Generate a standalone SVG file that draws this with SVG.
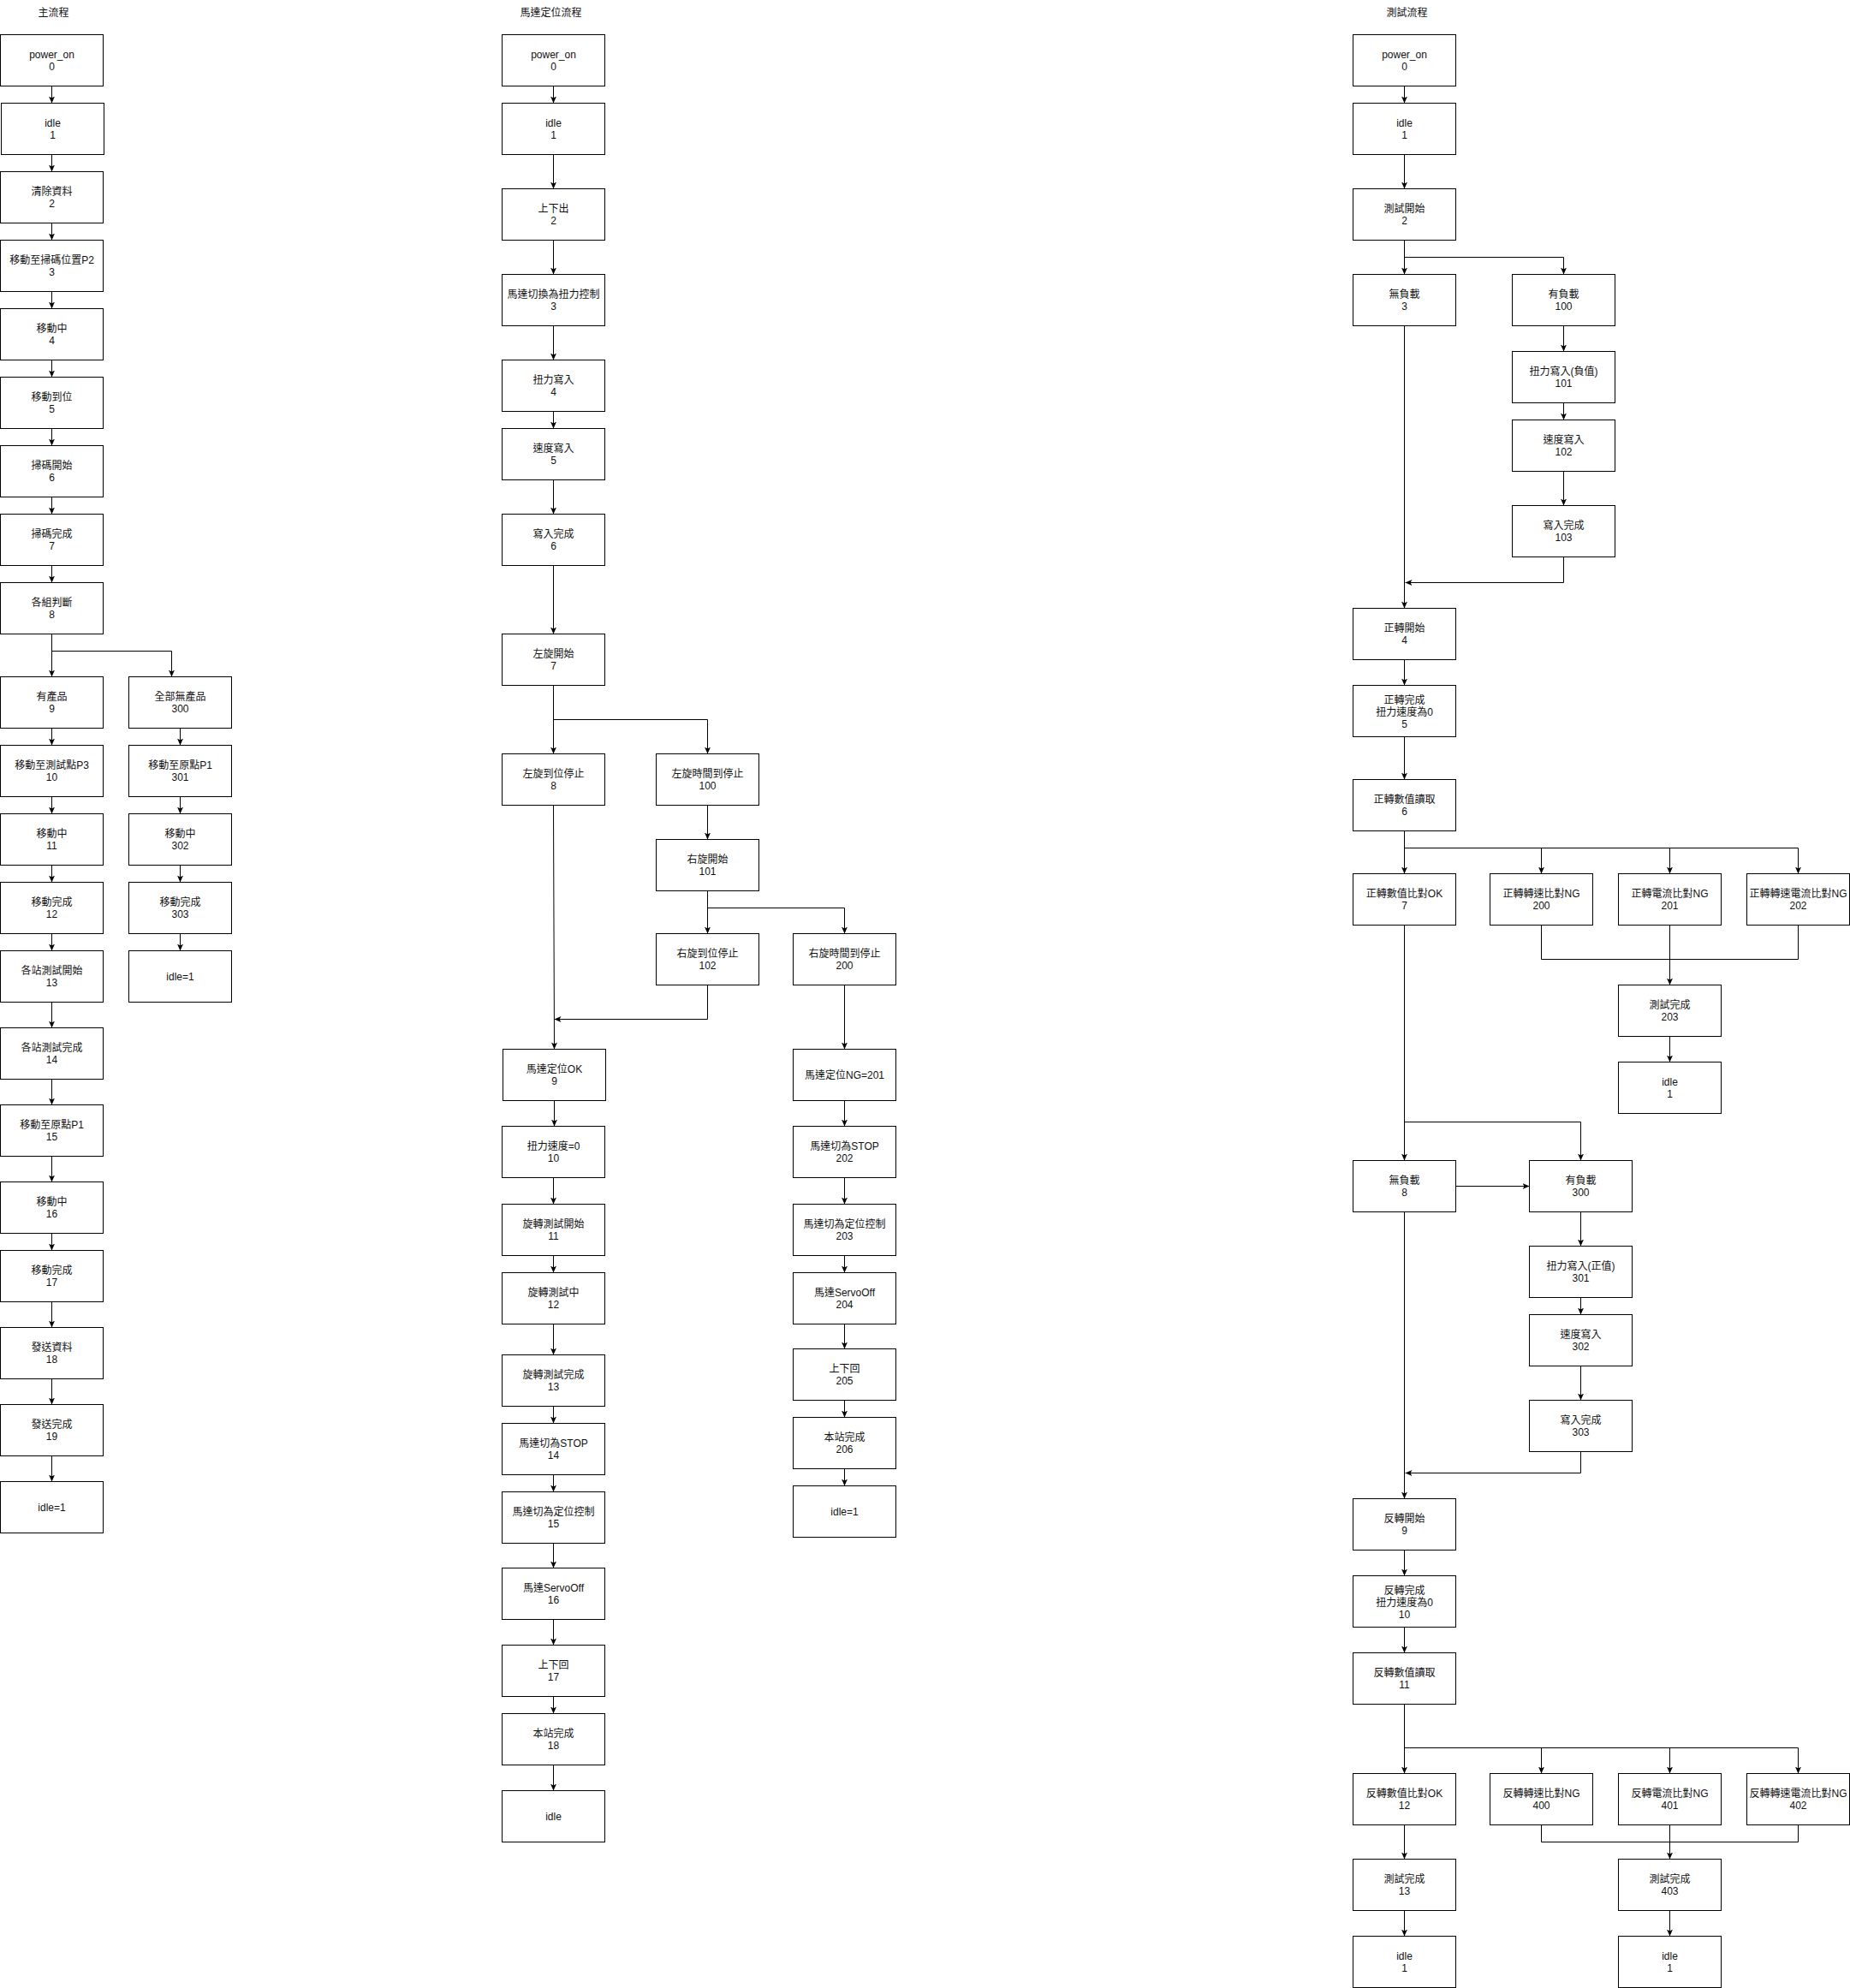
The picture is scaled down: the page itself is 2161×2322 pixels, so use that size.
<svg xmlns="http://www.w3.org/2000/svg" width="2161" height="2322" viewBox="0 0 2161 2322">
<style>
.box{fill:#fff;stroke:#000;stroke-width:1}
.t{font-family:"Liberation Sans","Noto Sans CJK TC",sans-serif;font-size:12px;fill:#111;text-anchor:middle;transform:translateY(-1px)}
.c{fill:none;stroke:#000;stroke-width:1;marker-end:url(#a)}
.n{fill:none;stroke:#000;stroke-width:1}
</style>
<defs>
<marker id="a" viewBox="0 0 8 8" refX="8" refY="4" markerWidth="8" markerHeight="8" markerUnits="userSpaceOnUse" orient="auto"><path d="M0,0.5 L8,4 L0,7.5 L2,4 Z" fill="#000"/></marker>
</defs>
<rect x="0" y="0" width="2161" height="2322" fill="#fff"/>
<g transform="translate(0.5,0.5)">
<g id="titles">
<text class="t" x="62" y="19">主流程</text>
<text class="t" x="643" y="19">馬達定位流程</text>
<text class="t" x="1643" y="19">測試流程</text>
</g>
<g id="connectors">
<path class="c" d="M60,100V120"/><path class="c" d="M60,180V200"/><path class="c" d="M60,260V280"/><path class="c" d="M60,340V360"/>
<path class="c" d="M60,420V440"/><path class="c" d="M60,500V520"/><path class="c" d="M60,580V600"/><path class="c" d="M60,660V680"/>
<path class="c" d="M60,740V790"/><path class="c" d="M60,760H200V790"/>
<path class="c" d="M60,850V870"/><path class="c" d="M60,930V950"/><path class="c" d="M60,1010V1030"/><path class="c" d="M60,1090V1110"/>
<path class="c" d="M60,1170V1200"/><path class="c" d="M60,1260V1290"/><path class="c" d="M60,1350V1380"/><path class="c" d="M60,1440V1460"/>
<path class="c" d="M60,1520V1550"/><path class="c" d="M60,1610V1640"/><path class="c" d="M60,1700V1730"/>
<path class="c" d="M210,850V870"/><path class="c" d="M210,930V950"/><path class="c" d="M210,1010V1030"/><path class="c" d="M210,1090V1110"/>

<path class="c" d="M646,100V120"/><path class="c" d="M646,180V220"/><path class="c" d="M646,280V320"/><path class="c" d="M646,380V420"/>
<path class="c" d="M646,480V500"/><path class="c" d="M646,560V600"/><path class="c" d="M646,660V740"/>
<path class="c" d="M646,800V880"/><path class="c" d="M646,840H826V880"/>
<path class="c" d="M826,940V980"/>
<path class="c" d="M826,1040V1090"/><path class="c" d="M826,1060H986V1090"/>
<path class="c" d="M646,940L647,1225"/>
<path class="c" d="M826,1150V1190H647"/>
<path class="c" d="M647,1285V1315"/><path class="c" d="M646,1375V1406"/><path class="c" d="M646,1466V1486"/><path class="c" d="M646,1546V1582"/>
<path class="c" d="M646,1642V1662"/><path class="c" d="M646,1722V1742"/><path class="c" d="M646,1802V1831"/><path class="c" d="M646,1891V1921"/>
<path class="c" d="M646,1981V2001"/><path class="c" d="M646,2061V2091"/>
<path class="c" d="M986,1150V1225"/><path class="c" d="M986,1285V1315"/><path class="c" d="M986,1375V1406"/><path class="c" d="M986,1466V1486"/>
<path class="c" d="M986,1546V1575"/><path class="c" d="M986,1635V1655"/><path class="c" d="M986,1715V1735"/>

<path class="c" d="M1640,100V120"/><path class="c" d="M1640,180V220"/>
<path class="c" d="M1640,280V320"/><path class="c" d="M1640,300H1826V320"/>
<path class="c" d="M1826,380V410"/><path class="c" d="M1826,470V490"/><path class="c" d="M1826,550V590"/>
<path class="c" d="M1640,380V710"/>
<path class="c" d="M1826,650V680H1641"/>
<path class="c" d="M1640,770V800"/><path class="c" d="M1640,860V910"/>
<path class="c" d="M1640,970V1020"/><path class="n" d="M1640,990H2100"/>
<path class="c" d="M1800,990V1020"/><path class="c" d="M1950,990V1020"/><path class="c" d="M2100,990V1020"/>
<path class="n" d="M1800,1080V1120H2100V1080"/><path class="c" d="M1950,1080V1150"/>
<path class="c" d="M1950,1210V1240"/>
<path class="c" d="M1640,1080V1355"/><path class="c" d="M1640,1310H1846V1355"/>
<path class="c" d="M1700,1385H1786"/>
<path class="c" d="M1846,1415V1455"/><path class="c" d="M1846,1515V1535"/><path class="c" d="M1846,1595V1635"/>
<path class="c" d="M1640,1415V1750"/>
<path class="c" d="M1846,1695V1720H1641"/>
<path class="c" d="M1640,1810V1840"/><path class="c" d="M1640,1900V1930"/>
<path class="c" d="M1640,1990V2071"/><path class="n" d="M1640,2041H2100"/>
<path class="c" d="M1800,2041V2071"/><path class="c" d="M1950,2041V2071"/><path class="c" d="M2100,2041V2071"/>
<path class="n" d="M1800,2131V2151H2100V2131"/><path class="c" d="M1950,2131V2171"/>
<path class="c" d="M1640,2131V2171"/>
<path class="c" d="M1640,2231V2261"/><path class="c" d="M1950,2231V2261"/>
</g>

<g id="m0"><rect class="box" x="0" y="40" width="120" height="60"/><text class="t"><tspan x="60" y="68">power_on</tspan><tspan x="60" y="82">0</tspan></text></g>
<g id="m1"><rect class="box" x="1" y="120" width="120" height="60"/><text class="t"><tspan x="61" y="148">idle</tspan><tspan x="61" y="162">1</tspan></text></g>
<g id="m2"><rect class="box" x="0" y="200" width="120" height="60"/><text class="t"><tspan x="60" y="228">清除資料</tspan><tspan x="60" y="242">2</tspan></text></g>
<g id="m3"><rect class="box" x="0" y="280" width="120" height="60"/><text class="t"><tspan x="60" y="308">移動至掃碼位置P2</tspan><tspan x="60" y="322">3</tspan></text></g>
<g id="m4"><rect class="box" x="0" y="360" width="120" height="60"/><text class="t"><tspan x="60" y="388">移動中</tspan><tspan x="60" y="402">4</tspan></text></g>
<g id="m5"><rect class="box" x="0" y="440" width="120" height="60"/><text class="t"><tspan x="60" y="468">移動到位</tspan><tspan x="60" y="482">5</tspan></text></g>
<g id="m6"><rect class="box" x="0" y="520" width="120" height="60"/><text class="t"><tspan x="60" y="548">掃碼開始</tspan><tspan x="60" y="562">6</tspan></text></g>
<g id="m7"><rect class="box" x="0" y="600" width="120" height="60"/><text class="t"><tspan x="60" y="628">掃碼完成</tspan><tspan x="60" y="642">7</tspan></text></g>
<g id="m8"><rect class="box" x="0" y="680" width="120" height="60"/><text class="t"><tspan x="60" y="708">各組判斷</tspan><tspan x="60" y="722">8</tspan></text></g>
<g id="m9"><rect class="box" x="0" y="790" width="120" height="60"/><text class="t"><tspan x="60" y="818">有產品</tspan><tspan x="60" y="832">9</tspan></text></g>
<g id="m10"><rect class="box" x="0" y="870" width="120" height="60"/><text class="t"><tspan x="60" y="898">移動至測試點P3</tspan><tspan x="60" y="912">10</tspan></text></g>
<g id="m11"><rect class="box" x="0" y="950" width="120" height="60"/><text class="t"><tspan x="60" y="978">移動中</tspan><tspan x="60" y="992">11</tspan></text></g>
<g id="m12"><rect class="box" x="0" y="1030" width="120" height="60"/><text class="t"><tspan x="60" y="1058">移動完成</tspan><tspan x="60" y="1072">12</tspan></text></g>
<g id="m13"><rect class="box" x="0" y="1110" width="120" height="60"/><text class="t"><tspan x="60" y="1138">各站測試開始</tspan><tspan x="60" y="1152">13</tspan></text></g>
<g id="m14"><rect class="box" x="0" y="1200" width="120" height="60"/><text class="t"><tspan x="60" y="1228">各站測試完成</tspan><tspan x="60" y="1242">14</tspan></text></g>
<g id="m15"><rect class="box" x="0" y="1290" width="120" height="60"/><text class="t"><tspan x="60" y="1318">移動至原點P1</tspan><tspan x="60" y="1332">15</tspan></text></g>
<g id="m16"><rect class="box" x="0" y="1380" width="120" height="60"/><text class="t"><tspan x="60" y="1408">移動中</tspan><tspan x="60" y="1422">16</tspan></text></g>
<g id="m17"><rect class="box" x="0" y="1460" width="120" height="60"/><text class="t"><tspan x="60" y="1488">移動完成</tspan><tspan x="60" y="1502">17</tspan></text></g>
<g id="m18"><rect class="box" x="0" y="1550" width="120" height="60"/><text class="t"><tspan x="60" y="1578">發送資料</tspan><tspan x="60" y="1592">18</tspan></text></g>
<g id="m19"><rect class="box" x="0" y="1640" width="120" height="60"/><text class="t"><tspan x="60" y="1668">發送完成</tspan><tspan x="60" y="1682">19</tspan></text></g>
<g id="m20"><rect class="box" x="0" y="1730" width="120" height="60"/><text class="t" x="60" y="1765">idle=1</text></g>
<g id="m300"><rect class="box" x="150" y="790" width="120" height="60"/><text class="t"><tspan x="210" y="818">全部無產品</tspan><tspan x="210" y="832">300</tspan></text></g>
<g id="m301"><rect class="box" x="150" y="870" width="120" height="60"/><text class="t"><tspan x="210" y="898">移動至原點P1</tspan><tspan x="210" y="912">301</tspan></text></g>
<g id="m302"><rect class="box" x="150" y="950" width="120" height="60"/><text class="t"><tspan x="210" y="978">移動中</tspan><tspan x="210" y="992">302</tspan></text></g>
<g id="m303"><rect class="box" x="150" y="1030" width="120" height="60"/><text class="t"><tspan x="210" y="1058">移動完成</tspan><tspan x="210" y="1072">303</tspan></text></g>
<g id="m304"><rect class="box" x="150" y="1110" width="120" height="60"/><text class="t" x="210" y="1145">idle=1</text></g>

<g id="p0"><rect class="box" x="586" y="40" width="120" height="60"/><text class="t"><tspan x="646" y="68">power_on</tspan><tspan x="646" y="82">0</tspan></text></g>
<g id="p1"><rect class="box" x="586" y="120" width="120" height="60"/><text class="t"><tspan x="646" y="148">idle</tspan><tspan x="646" y="162">1</tspan></text></g>
<g id="p2"><rect class="box" x="586" y="220" width="120" height="60"/><text class="t"><tspan x="646" y="248">上下出</tspan><tspan x="646" y="262">2</tspan></text></g>
<g id="p3"><rect class="box" x="586" y="320" width="120" height="60"/><text class="t"><tspan x="646" y="348">馬達切換為扭力控制</tspan><tspan x="646" y="362">3</tspan></text></g>
<g id="p4"><rect class="box" x="586" y="420" width="120" height="60"/><text class="t"><tspan x="646" y="448">扭力寫入</tspan><tspan x="646" y="462">4</tspan></text></g>
<g id="p5"><rect class="box" x="586" y="500" width="120" height="60"/><text class="t"><tspan x="646" y="528">速度寫入</tspan><tspan x="646" y="542">5</tspan></text></g>
<g id="p6"><rect class="box" x="586" y="600" width="120" height="60"/><text class="t"><tspan x="646" y="628">寫入完成</tspan><tspan x="646" y="642">6</tspan></text></g>
<g id="p7"><rect class="box" x="586" y="740" width="120" height="60"/><text class="t"><tspan x="646" y="768">左旋開始</tspan><tspan x="646" y="782">7</tspan></text></g>
<g id="p8"><rect class="box" x="586" y="880" width="120" height="60"/><text class="t"><tspan x="646" y="908">左旋到位停止</tspan><tspan x="646" y="922">8</tspan></text></g>
<g id="p100"><rect class="box" x="766" y="880" width="120" height="60"/><text class="t"><tspan x="826" y="908">左旋時間到停止</tspan><tspan x="826" y="922">100</tspan></text></g>
<g id="p101"><rect class="box" x="766" y="980" width="120" height="60"/><text class="t"><tspan x="826" y="1008">右旋開始</tspan><tspan x="826" y="1022">101</tspan></text></g>
<g id="p102"><rect class="box" x="766" y="1090" width="120" height="60"/><text class="t"><tspan x="826" y="1118">右旋到位停止</tspan><tspan x="826" y="1132">102</tspan></text></g>
<g id="p200"><rect class="box" x="926" y="1090" width="120" height="60"/><text class="t"><tspan x="986" y="1118">右旋時間到停止</tspan><tspan x="986" y="1132">200</tspan></text></g>
<g id="p9"><rect class="box" x="587" y="1225" width="120" height="60"/><text class="t"><tspan x="647" y="1253">馬達定位OK</tspan><tspan x="647" y="1267">9</tspan></text></g>
<g id="p10"><rect class="box" x="586" y="1315" width="120" height="60"/><text class="t"><tspan x="646" y="1343">扭力速度=0</tspan><tspan x="646" y="1357">10</tspan></text></g>
<g id="p11"><rect class="box" x="586" y="1406" width="120" height="60"/><text class="t"><tspan x="646" y="1434">旋轉測試開始</tspan><tspan x="646" y="1448">11</tspan></text></g>
<g id="p12"><rect class="box" x="586" y="1486" width="120" height="60"/><text class="t"><tspan x="646" y="1514">旋轉測試中</tspan><tspan x="646" y="1528">12</tspan></text></g>
<g id="p13"><rect class="box" x="586" y="1582" width="120" height="60"/><text class="t"><tspan x="646" y="1610">旋轉測試完成</tspan><tspan x="646" y="1624">13</tspan></text></g>
<g id="p14"><rect class="box" x="586" y="1662" width="120" height="60"/><text class="t"><tspan x="646" y="1690">馬達切為STOP</tspan><tspan x="646" y="1704">14</tspan></text></g>
<g id="p15"><rect class="box" x="586" y="1742" width="120" height="60"/><text class="t"><tspan x="646" y="1770">馬達切為定位控制</tspan><tspan x="646" y="1784">15</tspan></text></g>
<g id="p16"><rect class="box" x="586" y="1831" width="120" height="60"/><text class="t"><tspan x="646" y="1859">馬達ServoOff</tspan><tspan x="646" y="1873">16</tspan></text></g>
<g id="p17"><rect class="box" x="586" y="1921" width="120" height="60"/><text class="t"><tspan x="646" y="1949">上下回</tspan><tspan x="646" y="1963">17</tspan></text></g>
<g id="p18"><rect class="box" x="586" y="2001" width="120" height="60"/><text class="t"><tspan x="646" y="2029">本站完成</tspan><tspan x="646" y="2043">18</tspan></text></g>
<g id="p19"><rect class="box" x="586" y="2091" width="120" height="60"/><text class="t" x="646" y="2126">idle</text></g>
<g id="p201"><rect class="box" x="926" y="1225" width="120" height="60"/><text class="t" x="986" y="1260">馬達定位NG=201</text></g>
<g id="p202"><rect class="box" x="926" y="1315" width="120" height="60"/><text class="t"><tspan x="986" y="1343">馬達切為STOP</tspan><tspan x="986" y="1357">202</tspan></text></g>
<g id="p203"><rect class="box" x="926" y="1406" width="120" height="60"/><text class="t"><tspan x="986" y="1434">馬達切為定位控制</tspan><tspan x="986" y="1448">203</tspan></text></g>
<g id="p204"><rect class="box" x="926" y="1486" width="120" height="60"/><text class="t"><tspan x="986" y="1514">馬達ServoOff</tspan><tspan x="986" y="1528">204</tspan></text></g>
<g id="p205"><rect class="box" x="926" y="1575" width="120" height="60"/><text class="t"><tspan x="986" y="1603">上下回</tspan><tspan x="986" y="1617">205</tspan></text></g>
<g id="p206"><rect class="box" x="926" y="1655" width="120" height="60"/><text class="t"><tspan x="986" y="1683">本站完成</tspan><tspan x="986" y="1697">206</tspan></text></g>
<g id="p207"><rect class="box" x="926" y="1735" width="120" height="60"/><text class="t" x="986" y="1770">idle=1</text></g>

<g id="t0"><rect class="box" x="1580" y="40" width="120" height="60"/><text class="t"><tspan x="1640" y="68">power_on</tspan><tspan x="1640" y="82">0</tspan></text></g>
<g id="t1"><rect class="box" x="1580" y="120" width="120" height="60"/><text class="t"><tspan x="1640" y="148">idle</tspan><tspan x="1640" y="162">1</tspan></text></g>
<g id="t2"><rect class="box" x="1580" y="220" width="120" height="60"/><text class="t"><tspan x="1640" y="248">測試開始</tspan><tspan x="1640" y="262">2</tspan></text></g>
<g id="t3"><rect class="box" x="1580" y="320" width="120" height="60"/><text class="t"><tspan x="1640" y="348">無負載</tspan><tspan x="1640" y="362">3</tspan></text></g>
<g id="t100"><rect class="box" x="1766" y="320" width="120" height="60"/><text class="t"><tspan x="1826" y="348">有負載</tspan><tspan x="1826" y="362">100</tspan></text></g>
<g id="t101"><rect class="box" x="1766" y="410" width="120" height="60"/><text class="t"><tspan x="1826" y="438">扭力寫入(負值)</tspan><tspan x="1826" y="452">101</tspan></text></g>
<g id="t102"><rect class="box" x="1766" y="490" width="120" height="60"/><text class="t"><tspan x="1826" y="518">速度寫入</tspan><tspan x="1826" y="532">102</tspan></text></g>
<g id="t103"><rect class="box" x="1766" y="590" width="120" height="60"/><text class="t"><tspan x="1826" y="618">寫入完成</tspan><tspan x="1826" y="632">103</tspan></text></g>
<g id="t4"><rect class="box" x="1580" y="710" width="120" height="60"/><text class="t"><tspan x="1640" y="738">正轉開始</tspan><tspan x="1640" y="752">4</tspan></text></g>
<g id="t5"><rect class="box" x="1580" y="800" width="120" height="60"/><text class="t"><tspan x="1640" y="822">正轉完成</tspan><tspan x="1640" y="836">扭力速度為0</tspan><tspan x="1640" y="850">5</tspan></text></g>
<g id="t6"><rect class="box" x="1580" y="910" width="120" height="60"/><text class="t"><tspan x="1640" y="938">正轉數值讀取</tspan><tspan x="1640" y="952">6</tspan></text></g>
<g id="t7"><rect class="box" x="1580" y="1020" width="120" height="60"/><text class="t"><tspan x="1640" y="1048">正轉數值比對OK</tspan><tspan x="1640" y="1062">7</tspan></text></g>
<g id="t200"><rect class="box" x="1740" y="1020" width="120" height="60"/><text class="t"><tspan x="1800" y="1048">正轉轉速比對NG</tspan><tspan x="1800" y="1062">200</tspan></text></g>
<g id="t201"><rect class="box" x="1890" y="1020" width="120" height="60"/><text class="t"><tspan x="1950" y="1048">正轉電流比對NG</tspan><tspan x="1950" y="1062">201</tspan></text></g>
<g id="t202"><rect class="box" x="2040" y="1020" width="120" height="60"/><text class="t"><tspan x="2100" y="1048">正轉轉速電流比對NG</tspan><tspan x="2100" y="1062">202</tspan></text></g>
<g id="t203"><rect class="box" x="1890" y="1150" width="120" height="60"/><text class="t"><tspan x="1950" y="1178">測試完成</tspan><tspan x="1950" y="1192">203</tspan></text></g>
<g id="t204"><rect class="box" x="1890" y="1240" width="120" height="60"/><text class="t"><tspan x="1950" y="1268">idle</tspan><tspan x="1950" y="1282">1</tspan></text></g>
<g id="t8"><rect class="box" x="1580" y="1355" width="120" height="60"/><text class="t"><tspan x="1640" y="1383">無負載</tspan><tspan x="1640" y="1397">8</tspan></text></g>
<g id="t300"><rect class="box" x="1786" y="1355" width="120" height="60"/><text class="t"><tspan x="1846" y="1383">有負載</tspan><tspan x="1846" y="1397">300</tspan></text></g>
<g id="t301"><rect class="box" x="1786" y="1455" width="120" height="60"/><text class="t"><tspan x="1846" y="1483">扭力寫入(正值)</tspan><tspan x="1846" y="1497">301</tspan></text></g>
<g id="t302"><rect class="box" x="1786" y="1535" width="120" height="60"/><text class="t"><tspan x="1846" y="1563">速度寫入</tspan><tspan x="1846" y="1577">302</tspan></text></g>
<g id="t303"><rect class="box" x="1786" y="1635" width="120" height="60"/><text class="t"><tspan x="1846" y="1663">寫入完成</tspan><tspan x="1846" y="1677">303</tspan></text></g>
<g id="t9"><rect class="box" x="1580" y="1750" width="120" height="60"/><text class="t"><tspan x="1640" y="1778">反轉開始</tspan><tspan x="1640" y="1792">9</tspan></text></g>
<g id="t10"><rect class="box" x="1580" y="1840" width="120" height="60"/><text class="t"><tspan x="1640" y="1862">反轉完成</tspan><tspan x="1640" y="1876">扭力速度為0</tspan><tspan x="1640" y="1890">10</tspan></text></g>
<g id="t11"><rect class="box" x="1580" y="1930" width="120" height="60"/><text class="t"><tspan x="1640" y="1958">反轉數值讀取</tspan><tspan x="1640" y="1972">11</tspan></text></g>
<g id="t12"><rect class="box" x="1580" y="2071" width="120" height="60"/><text class="t"><tspan x="1640" y="2099">反轉數值比對OK</tspan><tspan x="1640" y="2113">12</tspan></text></g>
<g id="t400"><rect class="box" x="1740" y="2071" width="120" height="60"/><text class="t"><tspan x="1800" y="2099">反轉轉速比對NG</tspan><tspan x="1800" y="2113">400</tspan></text></g>
<g id="t401"><rect class="box" x="1890" y="2071" width="120" height="60"/><text class="t"><tspan x="1950" y="2099">反轉電流比對NG</tspan><tspan x="1950" y="2113">401</tspan></text></g>
<g id="t402"><rect class="box" x="2040" y="2071" width="120" height="60"/><text class="t"><tspan x="2100" y="2099">反轉轉速電流比對NG</tspan><tspan x="2100" y="2113">402</tspan></text></g>
<g id="t13"><rect class="box" x="1580" y="2171" width="120" height="60"/><text class="t"><tspan x="1640" y="2199">測試完成</tspan><tspan x="1640" y="2213">13</tspan></text></g>
<g id="t403"><rect class="box" x="1890" y="2171" width="120" height="60"/><text class="t"><tspan x="1950" y="2199">測試完成</tspan><tspan x="1950" y="2213">403</tspan></text></g>
<g id="t14"><rect class="box" x="1580" y="2261" width="120" height="60"/><text class="t"><tspan x="1640" y="2289">idle</tspan><tspan x="1640" y="2303">1</tspan></text></g>
<g id="t404"><rect class="box" x="1890" y="2261" width="120" height="60"/><text class="t"><tspan x="1950" y="2289">idle</tspan><tspan x="1950" y="2303">1</tspan></text></g>
</g>
</svg>
